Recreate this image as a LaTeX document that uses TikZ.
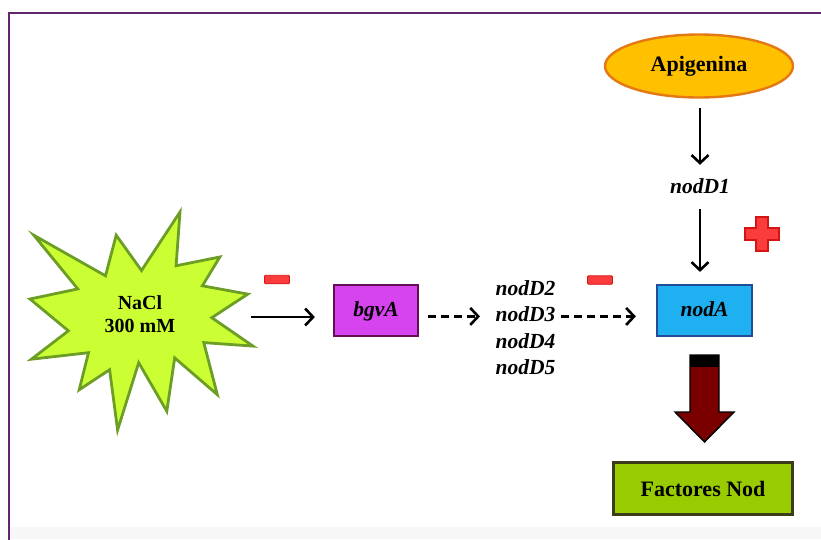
\documentclass[tikz,border=0pt]{standalone}
\usepackage{fontspec}
\setmainfont{Liberation Serif}
\usetikzlibrary{positioning,arrows.meta,shapes.geometric}

\definecolor{framepurple}{RGB}{95,40,110}
\definecolor{saltfill}{RGB}{204,255,51}
\definecolor{saltdraw}{RGB}{108,158,38}
\definecolor{bgvfill}{RGB}{214,68,240}
\definecolor{bgvdraw}{RGB}{100,15,85}
\definecolor{nodfill}{RGB}{30,176,240}
\definecolor{noddraw}{RGB}{35,75,150}
\definecolor{apifill}{RGB}{255,192,0}
\definecolor{apidraw}{RGB}{228,120,20}
\definecolor{facfill}{RGB}{153,204,0}
\definecolor{facdraw}{RGB}{60,60,25}
\definecolor{signfill}{RGB}{250,60,60}
\definecolor{signdraw}{RGB}{215,20,20}
\definecolor{bigred}{RGB}{122,0,0}

\tikzset{
  txt/.style={font=\fontsize{22}{26}\selectfont\bfseries},
  gene/.style={font=\fontsize{21.5}{26}\selectfont\bfseries\itshape,
    text height=15pt, text depth=4pt, inner sep=1.5pt},
  genebox/.style={gene, draw, line width=2.2pt, minimum width=84pt, minimum height=51pt},
  minus/.style={draw=signdraw, fill=signfill, line width=0.8pt, rounded corners=1pt,
    minimum width=25pt, minimum height=8.5pt, inner sep=0pt},
  plus/.style={draw=signdraw, fill=signfill, line width=1.2pt},
  arr/.style={line width=2.8pt, -{Straight Barb[length=8pt,width=17pt,line width=2.6pt]}},
  darr/.style={arr, dash pattern=on 8pt off 5pt},
}

\begin{document}
\begin{tikzpicture}[x=1pt,y=-1pt]
  \useasboundingbox (0,0) rectangle (821,539);
  \fill[black!3] (10,527) rectangle (821,539);
  \draw[framepurple, line width=2.6pt] (9,560) -- (9,13) -- (840,13);

  % salt stress
  \draw[saltdraw, fill=saltfill, line width=2.8pt, line join=miter]
    (141.5,270.5) -- (180.0,212.0) -- (176.1,265.7) -- (219.8,257.0)
    -- (202.4,285.8) -- (247.8,294.1) -- (211.8,317.7) -- (253.0,346.1)
    -- (203.8,342.6) -- (217.3,394.6) -- (174.7,357.9) -- (166.8,411.2)
    -- (138.7,362.7) -- (117.6,430.0) -- (109.6,369.7) -- (79.2,389.8)
    -- (88.5,352.7) -- (31.4,359.2) -- (68.4,330.8) -- (30.0,299.0)
    -- (77.8,288.9) -- (33.8,235.2) -- (105.5,275.8) -- (116.2,235.2) -- cycle;
  \node[align=center, font=\fontsize{20}{23}\selectfont\bfseries] (nacl) at (140,314) {NaCl\\300 mM};
  \coordinate (salt) at (251,317);

  \node[genebox, draw=bgvdraw, fill=bgvfill] (bgv) at (376,310.5) {bgvA};

  \node[gene, anchor=west] (d2) at (494,290) {nodD2};
  \node[gene, below=4pt of d2.south west, anchor=north west] (d3) {nodD3};
  \node[gene, below=4pt of d3.south west, anchor=north west] (d4) {nodD4};
  \node[gene, below=4pt of d4.south west, anchor=north west] (d5) {nodD5};

  \node[genebox, draw=noddraw, fill=nodfill, minimum width=95pt] (nod) at (704.5,310.5) {nodA};

  \node[txt, ellipse, draw=apidraw, fill=apifill, line width=2.4pt,
    minimum width=188pt, minimum height=63pt] (api) at (699,66) {Apigenina};
  \node[gene] (d1) at (700,188) {nodD1};

  \node[txt, draw=facdraw, fill=facfill, line width=3pt,
    minimum width=179pt, minimum height=52pt] (fac) at (703,488.5) {Factores Nod};

  % signs
  \node[minus] (m1) at (277,279.5) {};
  \node[minus] (m2) at (600,280) {};
  \draw[plus] (756,217) -- ++(12,0) -- ++(0,11) -- ++(11,0) -- ++(0,12) -- ++(-11,0)
    -- ++(0,11) -- ++(-12,0) -- ++(0,-11) -- ++(-11,0) -- ++(0,-12) -- ++(11,0) -- cycle;

  % connectors
  \draw[arr, shorten >=18pt] (salt) -- (salt -| bgv.west);
  \draw[darr, shorten <=9pt, shorten >=14pt] (bgv.east |- d3) -- (d3.west);
  \draw[darr, shorten <=4pt, shorten >=20pt] (d3.east) -- (d3.east -| nod.west);
  \draw[arr, shorten <=9pt, shorten >=12pt] (d1.north |- api.south) -- (d1.north);
  \draw[arr, shorten <=10pt, shorten >=12pt] (d1.south) -- (d1.south |- nod.north);

  % product arrow
  \draw[fill=bigred, line width=1.4pt] (690,355) -- (719,355) -- (719,412) -- (734,412)
    -- (704.5,442) -- (675,412) -- (690,412) -- cycle;
  \fill (690,355) rectangle (719,367);
\end{tikzpicture}
\end{document}
